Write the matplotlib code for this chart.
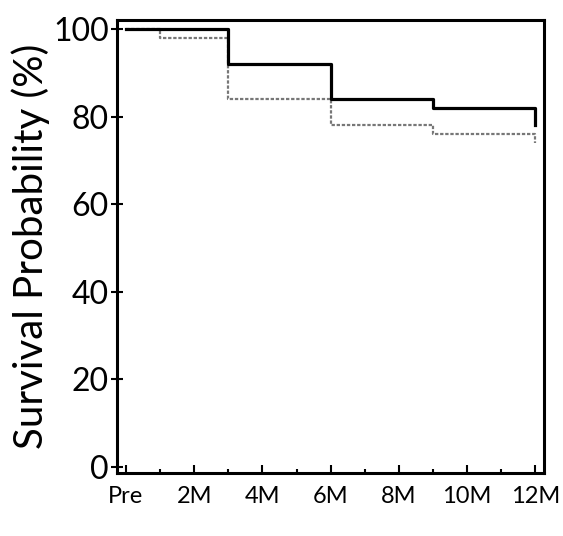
import numpy as np
import matplotlib
matplotlib.use("Agg")
import matplotlib.pyplot as plt

plt.rcParams['font.family'] = ['Lato', 'DejaVu Sans']

# step curve data (months, survival %)
months_a = [0, 3, 6, 9, 12, 12]
surv_a = [100, 92, 84, 82, 82, 78]
months_b = [0, 1, 3, 6, 9, 12, 12]
surv_b = [100, 98, 84, 78, 76, 76, 74]

xtick_pos = [0, 2, 4, 6, 8, 10, 12]
xtick_labels = ['Pre', '2M', '4M', '6M', '8M', '10M', '12M']
ytick_pos = [0, 20, 40, 60, 80, 100]

fig = plt.figure(figsize=(5.63, 5.36), dpi=100)
ax = fig.add_axes([0.208, 0.1175, 0.758, 0.8455])

ax.step(months_b, surv_b, where='post', color='#777777', lw=1.6,
        linestyle=(0, (1.5, 0.8)))
ax.step(months_a, surv_a, where='post', color='black', lw=2.3)

ax.set_xlim(-0.26, 12.25)
ax.set_ylim(-1.4, 102.1)

ax.set_xticks(xtick_pos)
ax.set_xticklabels(xtick_labels)
ax.set_xticks(np.arange(1, 12, 2), minor=True)
ax.set_yticks(ytick_pos)

ax.tick_params(axis='x', direction='in', length=6, width=1.5, labelsize=17, pad=9)
ax.tick_params(axis='x', which='minor', direction='in', length=3, width=1.5)
ax.tick_params(axis='y', direction='inout', length=8, width=1.5, labelsize=23, pad=2)

for s in ax.spines.values():
    s.set_linewidth(2.2)

ax.set_ylabel('Survival Probability (%)', fontsize=29, labelpad=2)

fig.savefig('out.png', dpi=100)
